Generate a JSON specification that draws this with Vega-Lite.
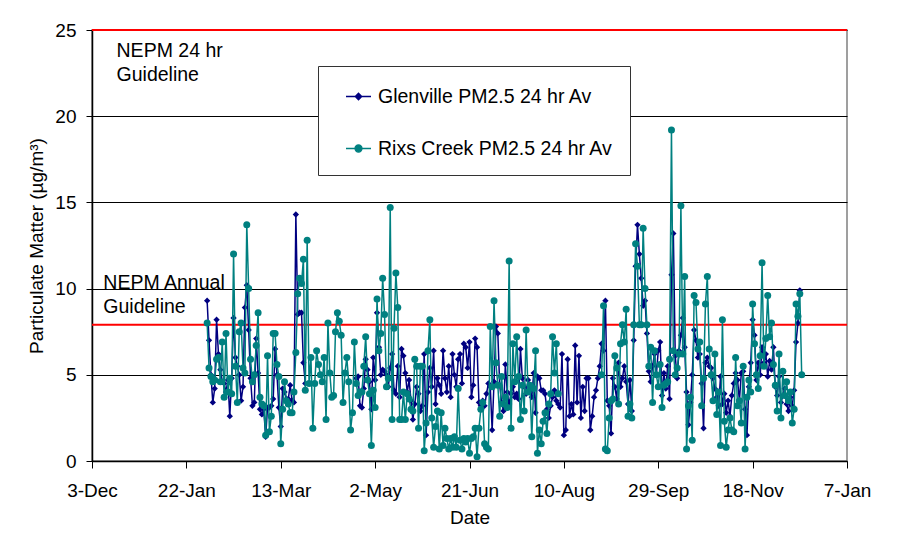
{
  "$schema": "https://vega.github.io/schema/vega-lite/v6.json",
  "width": 755,
  "height": 431,
  "autosize": "none",
  "padding": {"left": 92, "top": 30, "right": 50, "bottom": 93},
  "background": "white",
  "config": {
    "font": "Liberation Sans",
    "view": {"stroke": "#808080", "strokeWidth": 1.5},
    "axis": {"labelFont": "Liberation Sans", "titleFont": "Liberation Sans", "labelColor": "#000", "titleColor": "#000", "labelFontSize": 19, "titleFontSize": 19, "titleFontWeight": "normal", "domainColor": "#000", "tickColor": "#000"}
  },
  "datasets": {
    "guides": [{"v": 25}, {"v": 7.9}],
    "notes": [
      {"d": "2010-12-16", "v": 23.45, "t": ["NEPM 24 hr", "Guideline"]},
      {"d": "2010-12-09", "v": 9.97, "t": ["NEPM Annual", "Guideline"]}
    ],
    "pm": [
{"d":"2011-02-02","g":9.3,"r":8.0},{"d":"2011-02-03","g":7.0,"r":5.4},{"d":"2011-02-04","g":5.0,"r":4.9},{"d":"2011-02-05","g":3.4,"r":4.6},{"d":"2011-02-06","g":4.2,"r":4.7},{"d":"2011-02-07","g":8.2,"r":5.9},{"d":"2011-02-08","g":6.2,"r":6.0},{"d":"2011-02-09","g":5.3,"r":4.6},{"d":"2011-02-10","g":4.6,"r":6.9},{"d":"2011-02-11","g":4.5,"r":3.7},{"d":"2011-02-12","g":4.0,"r":7.4},{"d":"2011-02-13","g":4.7,"r":4.0},{"d":"2011-02-14","g":2.6,"r":4.8},{"d":"2011-02-15","g":4.8,"r":3.9},{"d":"2011-02-16","g":8.3,"r":12.0},{"d":"2011-02-17","g":6.0,"r":5.5},{"d":"2011-02-18","g":5.5,"r":3.4},{"d":"2011-02-19","g":5.0,"r":7.5},{"d":"2011-02-20","g":3.5,"r":8.0},{"d":"2011-02-21","g":4.3,"r":5.4},{"d":"2011-02-22","g":8.9,"r":5.1},{"d":"2011-02-23","g":10.2,"r":13.7},{"d":"2011-02-24","g":7.6,"r":10.0},{"d":"2011-02-25","g":4.8,"r":5.9},{"d":"2011-02-26","g":3.2,"r":4.6},{"d":"2011-02-27","g":3.4,"r":5.0},{"d":"2011-02-28","g":7.1,"r":6.7},
{"d":"2011-03-01","g":5.1,"r":8.6},{"d":"2011-03-02","g":3.0,"r":3.7},{"d":"2011-03-03","g":2.7,"r":3.3},{"d":"2011-03-04","g":3.0,"r":3.2},{"d":"2011-03-05","g":1.4,"r":1.5},{"d":"2011-03-06","g":3.1,"r":6.1},{"d":"2011-03-07","g":3.1,"r":1.7},{"d":"2011-03-08","g":3.2,"r":2.6},{"d":"2011-03-09","g":3.6,"r":7.4},{"d":"2011-03-10","g":6.5,"r":7.4},{"d":"2011-03-11","g":5.0,"r":5.6},{"d":"2011-03-12","g":3.1,"r":4.9},{"d":"2011-03-13","g":2.0,"r":1.0},{"d":"2011-03-14","g":4.2,"r":3.0},{"d":"2011-03-15","g":4.0,"r":4.6},{"d":"2011-03-16","g":3.6,"r":3.5},{"d":"2011-03-17","g":3.6,"r":3.3},{"d":"2011-03-18","g":4.4,"r":2.8},{"d":"2011-03-19","g":3.5,"r":2.8},{"d":"2011-03-20","g":3.4,"r":4.0},{"d":"2011-03-21","g":14.3,"r":6.3},{"d":"2011-03-22","g":8.5,"r":9.7},{"d":"2011-03-23","g":8.6,"r":10.6},{"d":"2011-03-24","g":8.6,"r":10.3},{"d":"2011-03-25","g":5.7,"r":11.7},{"d":"2011-03-26","g":4.5,"r":4.1},{"d":"2011-03-27","g":null,"r":12.8},{"d":"2011-03-28","g":null,"r":4.5},{"d":"2011-03-29","g":null,"r":6.0},{"d":"2011-03-30","g":null,"r":1.9},{"d":"2011-03-31","g":null,"r":4.5},
{"d":"2011-04-01","g":null,"r":6.4},{"d":"2011-04-02","g":null,"r":5.6},{"d":"2011-04-03","g":null,"r":5.0},{"d":"2011-04-04","g":null,"r":4.6},{"d":"2011-04-05","g":null,"r":6.0},{"d":"2011-04-06","g":null,"r":2.4},{"d":"2011-04-07","g":null,"r":8.0},{"d":"2011-04-08","g":null,"r":5.1},{"d":"2011-04-09","g":null,"r":3.7},{"d":"2011-04-10","g":null,"r":3.8},{"d":"2011-04-11","g":null,"r":7.5},{"d":"2011-04-12","g":null,"r":8.6},{"d":"2011-04-13","g":null,"r":8.1},{"d":"2011-04-14","g":null,"r":7.3},{"d":"2011-04-15","g":null,"r":3.4},{"d":"2011-04-16","g":null,"r":5.1},{"d":"2011-04-17","g":null,"r":6.0},{"d":"2011-04-18","g":null,"r":4.6},{"d":"2011-04-19","g":null,"r":1.8},{"d":"2011-04-20","g":null,"r":2.8},{"d":"2011-04-21","g":null,"r":6.9},{"d":"2011-04-22","g":4.8,"r":4.5},{"d":"2011-04-23","g":4.9,"r":3.8},{"d":"2011-04-24","g":3.2,"r":4.0},{"d":"2011-04-25","g":3.1,"r":4.0},{"d":"2011-04-26","g":4.2,"r":5.5},{"d":"2011-04-27","g":5.9,"r":7.2},{"d":"2011-04-28","g":5.3,"r":4.7},{"d":"2011-04-29","g":4.6,"r":3.9},{"d":"2011-04-30","g":3.0,"r":0.9},
{"d":"2011-05-01","g":6.0,"r":4.1},{"d":"2011-05-02","g":4.7,"r":3.1},{"d":"2011-05-03","g":8.6,"r":9.4},{"d":"2011-05-04","g":6.6,"r":6.4},{"d":"2011-05-05","g":5.0,"r":7.4},{"d":"2011-05-06","g":5.3,"r":10.6},{"d":"2011-05-07","g":5.2,"r":8.5},{"d":"2011-05-08","g":5.0,"r":4.3},{"d":"2011-05-09","g":4.3,"r":4.8},{"d":"2011-05-10","g":5.4,"r":14.7},{"d":"2011-05-11","g":6.2,"r":2.4},{"d":"2011-05-12","g":4.1,"r":7.7},{"d":"2011-05-13","g":3.9,"r":10.9},{"d":"2011-05-14","g":5.5,"r":8.9},{"d":"2011-05-15","g":3.7,"r":2.4},{"d":"2011-05-16","g":6.5,"r":2.4},{"d":"2011-05-17","g":6.1,"r":4.0},{"d":"2011-05-18","g":5.1,"r":2.4},{"d":"2011-05-19","g":4.0,"r":3.9},{"d":"2011-05-20","g":4.7,"r":3.6},{"d":"2011-05-21","g":3.5,"r":3.0},{"d":"2011-05-22","g":2.4,"r":2.9},{"d":"2011-05-23","g":3.3,"r":5.9},{"d":"2011-05-24","g":4.3,"r":5.5},{"d":"2011-05-25","g":3.9,"r":1.9},{"d":"2011-05-26","g":2.9,"r":5.5},{"d":"2011-05-27","g":3.2,"r":5.5},{"d":"2011-05-28","g":6.2,"r":0.6},{"d":"2011-05-29","g":1.5,"r":2.2},{"d":"2011-05-30","g":4.0,"r":6.4},{"d":"2011-05-31","g":5.4,"r":8.2},
{"d":"2011-06-01","g":4.3,"r":2.5},{"d":"2011-06-02","g":6.4,"r":0.8},{"d":"2011-06-03","g":3.3,"r":2.0},{"d":"2011-06-04","g":4.8,"r":2.9},{"d":"2011-06-05","g":4.4,"r":0.7},{"d":"2011-06-06","g":3.9,"r":2.8},{"d":"2011-06-07","g":6.4,"r":0.9},{"d":"2011-06-08","g":4.8,"r":1.9},{"d":"2011-06-09","g":4.0,"r":1.3},{"d":"2011-06-10","g":5.5,"r":0.7},{"d":"2011-06-11","g":3.7,"r":1.3},{"d":"2011-06-12","g":6.2,"r":0.8},{"d":"2011-06-13","g":5.0,"r":1.4},{"d":"2011-06-14","g":4.3,"r":0.8},{"d":"2011-06-15","g":5.9,"r":4.2},{"d":"2011-06-16","g":6.2,"r":1.2},{"d":"2011-06-17","g":4.5,"r":0.7},{"d":"2011-06-18","g":6.8,"r":1.3},{"d":"2011-06-19","g":6.6,"r":1.1},{"d":"2011-06-20","g":5.4,"r":1.3},{"d":"2011-06-21","g":6.9,"r":0.45},{"d":"2011-06-22","g":3.7,"r":1.3},{"d":"2011-06-23","g":4.4,"r":1.4},{"d":"2011-06-24","g":7.1,"r":1.9},{"d":"2011-06-25","g":6.6,"r":0.25},{"d":"2011-06-26","g":3.4,"r":1.9},{"d":"2011-06-27","g":3.2,"r":3.0},{"d":"2011-06-28","g":3.5,"r":3.4},{"d":"2011-06-29","g":3.2,"r":1.0},{"d":"2011-06-30","g":3.9,"r":0.8},
{"d":"2011-07-01","g":4.5,"r":0.7},{"d":"2011-07-02","g":4.3,"r":7.8},{"d":"2011-07-03","g":1.8,"r":4.3},{"d":"2011-07-04","g":4.6,"r":9.3},{"d":"2011-07-05","g":7.8,"r":5.7},{"d":"2011-07-06","g":7.4,"r":4.4},{"d":"2011-07-07","g":4.4,"r":2.6},{"d":"2011-07-08","g":3.4,"r":4.9},{"d":"2011-07-09","g":2.9,"r":3.3},{"d":"2011-07-10","g":5.6,"r":3.7},{"d":"2011-07-11","g":4.0,"r":3.1},{"d":"2011-07-12","g":3.3,"r":11.6},{"d":"2011-07-13","g":3.9,"r":1.9},{"d":"2011-07-14","g":4.3,"r":6.8},{"d":"2011-07-15","g":3.7,"r":4.6},{"d":"2011-07-16","g":3.9,"r":7.2},{"d":"2011-07-17","g":3.6,"r":4.9},{"d":"2011-07-18","g":6.5,"r":2.4},{"d":"2011-07-19","g":4.8,"r":4.4},{"d":"2011-07-20","g":4.3,"r":2.9},{"d":"2011-07-21","g":3.9,"r":7.6},{"d":"2011-07-22","g":4.7,"r":4.0},{"d":"2011-07-23","g":4.1,"r":4.4},{"d":"2011-07-24","g":3.7,"r":1.4},{"d":"2011-07-25","g":5.1,"r":4.2},{"d":"2011-07-26","g":2.8,"r":6.4},{"d":"2011-07-27","g":4.9,"r":0.45},{"d":"2011-07-28","g":4.8,"r":1.8},{"d":"2011-07-29","g":4.1,"r":1.0},{"d":"2011-07-30","g":4.1,"r":2.3},{"d":"2011-07-31","g":3.9,"r":2.8},
{"d":"2011-08-01","g":3.0,"r":1.6},{"d":"2011-08-02","g":2.5,"r":3.3},{"d":"2011-08-03","g":3.2,"r":3.9},{"d":"2011-08-04","g":3.7,"r":7.2},{"d":"2011-08-05","g":4.1,"r":5.1},{"d":"2011-08-06","g":3.5,"r":6.8},{"d":"2011-08-07","g":3.3,"r":3.9},{"d":"2011-08-08","g":3.1,"r":null},{"d":"2011-08-09","g":6.2,"r":null},{"d":"2011-08-10","g":1.5,"r":null},{"d":"2011-08-11","g":1.8,"r":null},{"d":"2011-08-12","g":5.9,"r":null},{"d":"2011-08-13","g":2.6,"r":null},{"d":"2011-08-14","g":3.3,"r":null},{"d":"2011-08-15","g":2.7,"r":null},{"d":"2011-08-16","g":6.7,"r":null},{"d":"2011-08-17","g":3.4,"r":null},{"d":"2011-08-18","g":6.1,"r":null},{"d":"2011-08-19","g":2.5,"r":null},{"d":"2011-08-20","g":4.3,"r":null},{"d":"2011-08-21","g":2.9,"r":null},{"d":"2011-08-22","g":4.8,"r":null},{"d":"2011-08-23","g":4.8,"r":null},{"d":"2011-08-24","g":1.8,"r":null},{"d":"2011-08-25","g":2.6,"r":null},{"d":"2011-08-26","g":3.7,"r":null},{"d":"2011-08-27","g":4.1,"r":null},{"d":"2011-08-28","g":4.8,"r":null},{"d":"2011-08-29","g":5.5,"r":null},{"d":"2011-08-30","g":6.8,"r":5.0},{"d":"2011-08-31","g":6.4,"r":9.0},
{"d":"2011-09-01","g":9.3,"r":0.7},{"d":"2011-09-02","g":3.5,"r":0.6},{"d":"2011-09-03","g":3.2,"r":2.5},{"d":"2011-09-04","g":1.6,"r":3.5},{"d":"2011-09-05","g":4.8,"r":3.6},{"d":"2011-09-06","g":4.3,"r":6.1},{"d":"2011-09-07","g":3.6,"r":5.4},{"d":"2011-09-08","g":5.7,"r":3.3},{"d":"2011-09-09","g":4.3,"r":6.8},{"d":"2011-09-10","g":4.8,"r":7.9},{"d":"2011-09-11","g":5.5,"r":6.9},{"d":"2011-09-12","g":4.6,"r":8.8},{"d":"2011-09-13","g":3.3,"r":2.6},{"d":"2011-09-14","g":4.7,"r":3.3},{"d":"2011-09-15","g":2.9,"r":2.5},{"d":"2011-09-16","g":7.0,"r":7.9},{"d":"2011-09-17","g":11.3,"r":12.6},{"d":"2011-09-18","g":13.7,"r":11.3},{"d":"2011-09-19","g":12.0,"r":7.9},{"d":"2011-09-20","g":10.6,"r":7.9},{"d":"2011-09-21","g":9.0,"r":13.5},{"d":"2011-09-22","g":9.3,"r":10.0},{"d":"2011-09-23","g":7.4,"r":7.9},{"d":"2011-09-24","g":5.2,"r":5.5},{"d":"2011-09-25","g":4.6,"r":6.6},{"d":"2011-09-26","g":5.5,"r":3.4},{"d":"2011-09-27","g":6.2,"r":6.4},{"d":"2011-09-28","g":5.0,"r":5.0},{"d":"2011-09-29","g":6.4,"r":4.3},{"d":"2011-09-30","g":6.9,"r":5.6},
{"d":"2011-10-01","g":3.8,"r":3.1},{"d":"2011-10-02","g":5.1,"r":4.4},{"d":"2011-10-03","g":4.2,"r":4.5},{"d":"2011-10-04","g":5.5,"r":4.6},{"d":"2011-10-05","g":3.6,"r":5.9},{"d":"2011-10-06","g":10.8,"r":19.2},{"d":"2011-10-07","g":13.2,"r":6.4},{"d":"2011-10-08","g":6.1,"r":5.0},{"d":"2011-10-09","g":4.8,"r":5.4},{"d":"2011-10-10","g":6.4,"r":6.2},{"d":"2011-10-11","g":7.3,"r":14.8},{"d":"2011-10-12","g":8.3,"r":6.2},{"d":"2011-10-13","g":6.6,"r":10.7},{"d":"2011-10-14","g":4.0,"r":0.7},{"d":"2011-10-15","g":2.1,"r":3.2},{"d":"2011-10-16","g":3.4,"r":3.7},{"d":"2011-10-17","g":5.0,"r":1.2},{"d":"2011-10-18","g":7.6,"r":9.6},{"d":"2011-10-19","g":7.0,"r":9.2},{"d":"2011-10-20","g":6.0,"r":6.5},{"d":"2011-10-21","g":6.2,"r":6.9},{"d":"2011-10-22","g":4.5,"r":3.2},{"d":"2011-10-23","g":1.9,"r":4.8},{"d":"2011-10-24","g":5.7,"r":9.1},{"d":"2011-10-25","g":6.0,"r":10.7},{"d":"2011-10-26","g":5.5,"r":6.5},{"d":"2011-10-27","g":5.4,"r":5.0},{"d":"2011-10-28","g":4.8,"r":3.5},{"d":"2011-10-29","g":4.2,"r":6.2},{"d":"2011-10-30","g":3.7,"r":2.7},{"d":"2011-10-31","g":3.2,"r":4.0},
{"d":"2011-11-01","g":4.9,"r":0.9},{"d":"2011-11-02","g":3.3,"r":8.2},{"d":"2011-11-03","g":3.9,"r":2.3},{"d":"2011-11-04","g":2.8,"r":0.8},{"d":"2011-11-05","g":3.5,"r":1.8},{"d":"2011-11-06","g":2.6,"r":2.5},{"d":"2011-11-07","g":3.8,"r":1.8},{"d":"2011-11-08","g":4.5,"r":1.7},{"d":"2011-11-09","g":5.1,"r":6.0},{"d":"2011-11-10","g":4.7,"r":3.2},{"d":"2011-11-11","g":3.5,"r":3.5},{"d":"2011-11-12","g":5.1,"r":2.2},{"d":"2011-11-13","g":5.2,"r":5.5},{"d":"2011-11-14","g":3.0,"r":0.7},{"d":"2011-11-15","g":1.5,"r":3.7},{"d":"2011-11-16","g":4.3,"r":4.7},{"d":"2011-11-17","g":5.7,"r":4.0},{"d":"2011-11-18","g":8.2,"r":9.1},{"d":"2011-11-19","g":7.3,"r":6.8},{"d":"2011-11-20","g":4.7,"r":5.0},{"d":"2011-11-21","g":5.7,"r":4.2},{"d":"2011-11-22","g":5.0,"r":6.1},{"d":"2011-11-23","g":6.6,"r":11.5},{"d":"2011-11-24","g":5.7,"r":5.5},{"d":"2011-11-25","g":6.2,"r":7.1},{"d":"2011-11-26","g":4.9,"r":9.6},{"d":"2011-11-27","g":5.8,"r":7.2},{"d":"2011-11-28","g":5.3,"r":8.0},{"d":"2011-11-29","g":6.6,"r":5.6},{"d":"2011-11-30","g":4.3,"r":4.4},
{"d":"2011-12-01","g":3.8,"r":2.9},{"d":"2011-12-02","g":4.9,"r":6.2},{"d":"2011-12-03","g":3.4,"r":2.5},{"d":"2011-12-04","g":3.8,"r":5.2},{"d":"2011-12-05","g":4.2,"r":3.8},{"d":"2011-12-06","g":3.3,"r":4.6},{"d":"2011-12-07","g":2.9,"r":3.5},{"d":"2011-12-08","g":3.7,"r":4.0},{"d":"2011-12-09","g":3.2,"r":2.2},{"d":"2011-12-10","g":4.1,"r":3.0},{"d":"2011-12-11","g":6.9,"r":9.1},{"d":"2011-12-12","g":8.0,"r":8.4},{"d":"2011-12-13","g":9.9,"r":9.7},{"d":"2011-12-14","g":null,"r":5.0}
    ]
  },
  "encoding": {
    "x": {
      "field": "d", "type": "temporal",
      "scale": {"type": "utc", "domain": [{"year": 2010, "month": 12, "date": 3, "utc": true}, {"year": 2012, "month": 1, "date": 7, "utc": true}]},
      "axis": {
        "title": "Date", "format": "%-d-%b", "grid": false, "tickSize": 7, "labelPadding": 13, "titlePadding": 8,
        "labelFlush": false, "labelOverlap": false, "labelBound": false, "domainWidth": 1.5,
        "values": [
          {"year": 2010, "month": 12, "date": 3, "utc": true},
          {"year": 2011, "month": 1, "date": 22, "utc": true},
          {"year": 2011, "month": 3, "date": 13, "utc": true},
          {"year": 2011, "month": 5, "date": 2, "utc": true},
          {"year": 2011, "month": 6, "date": 21, "utc": true},
          {"year": 2011, "month": 8, "date": 10, "utc": true},
          {"year": 2011, "month": 9, "date": 29, "utc": true},
          {"year": 2011, "month": 11, "date": 18, "utc": true},
          {"year": 2012, "month": 1, "date": 7, "utc": true}
        ]
      }
    },
    "y": {
      "field": "v", "type": "quantitative",
      "scale": {"domain": [0, 25], "nice": false, "zero": true},
      "axis": {
        "title": "Particulate Matter (µg/m³)", "values": [0, 5, 10, 15, 20, 25], "grid": true, "gridColor": "#000", "gridWidth": 1,
        "tickSize": 6, "labelPadding": 10, "titlePadding": 8, "domainWidth": 1.5
      }
    }
  },
  "layer": [
    {
      "data": {"name": "guides"},
      "mark": {"type": "rule", "color": "#ff0000", "strokeWidth": 2},
      "encoding": {"x": null, "y": {"field": "v", "type": "quantitative"}}
    },
    {
      "data": {"name": "notes"},
      "mark": {"type": "text", "align": "left", "baseline": "alphabetic", "fontSize": 19.5, "lineHeight": 24, "color": "#000", "font": "Liberation Sans"},
      "encoding": {"text": {"field": "t"}}
    },
    {
      "data": {"name": "pm"},
      "transform": [{"fold": ["g", "r"], "as": ["s", "v"]}, {"filter": "datum.s === 'g'"}],
      "mark": {"type": "line", "strokeWidth": 1.5, "invalid": "break-paths-filter-domains"},
      "encoding": {
        "color": {
          "field": "s", "type": "nominal",
          "scale": {"domain": ["g", "r"], "range": ["#000080", "#008080"]},
          "legend": {
            "orient": "none", "legendX": 226, "legendY": 36, "title": null, "direction": "vertical",
            "strokeColor": "#333", "fillColor": "#fff", "padding": 17,
            "labelFontSize": 19.5, "labelColor": "#000", "labelFont": "Liberation Sans", "labelLimit": 400,
            "labelExpr": "datum.value === 'g' ? 'Glenville PM2.5 24 hr Av' : 'Rixs Creek PM2.5 24 hr Av'",
            "symbolSize": 625, "symbolOffset": 10, "labelOffset": 6, "rowPadding": 29,
            "encode": {
              "symbols": {
                "update": {
                  "shape": {"signal": "datum.value === 'g' ? 'M-1,0H1M0,-0.26L0.26,0L0,0.26L-0.26,0Z' : 'M-1,0H1M0.28,0A0.28,0.28,0,1,1,-0.28,0A0.28,0.28,0,1,1,0.28,0Z'"},
                  "fill": {"signal": "datum.value === 'g' ? '#000080' : '#008080'"},
                  "stroke": {"signal": "datum.value === 'g' ? '#000080' : '#008080'"},
                  "strokeWidth": {"value": 1.3},
                  "opacity": {"value": 1},
                  "fillOpacity": {"value": 1},
                  "strokeOpacity": {"value": 1}
                }
              }
            }
          }
        }
      }
    },
    {
      "data": {"name": "pm"},
      "transform": [{"fold": ["g", "r"], "as": ["s", "v"]}, {"filter": "datum.s === 'g' && isValid(datum.v)"}],
      "mark": {"type": "point", "shape": "diamond", "filled": true, "size": 40, "opacity": 1},
      "encoding": {"color": {"field": "s", "type": "nominal", "legend": null}}
    },
    {
      "data": {"name": "pm"},
      "transform": [{"fold": ["g", "r"], "as": ["s", "v"]}, {"filter": "datum.s === 'r'"}],
      "mark": {"type": "line", "strokeWidth": 1.5, "invalid": "break-paths-filter-domains"},
      "encoding": {"color": {"field": "s", "type": "nominal", "legend": null}}
    },
    {
      "data": {"name": "pm"},
      "transform": [{"fold": ["g", "r"], "as": ["s", "v"]}, {"filter": "datum.s === 'r' && isValid(datum.v)"}],
      "mark": {"type": "point", "shape": "circle", "filled": true, "size": 49, "opacity": 1},
      "encoding": {"color": {"field": "s", "type": "nominal", "legend": null}}
    }
  ]
}
